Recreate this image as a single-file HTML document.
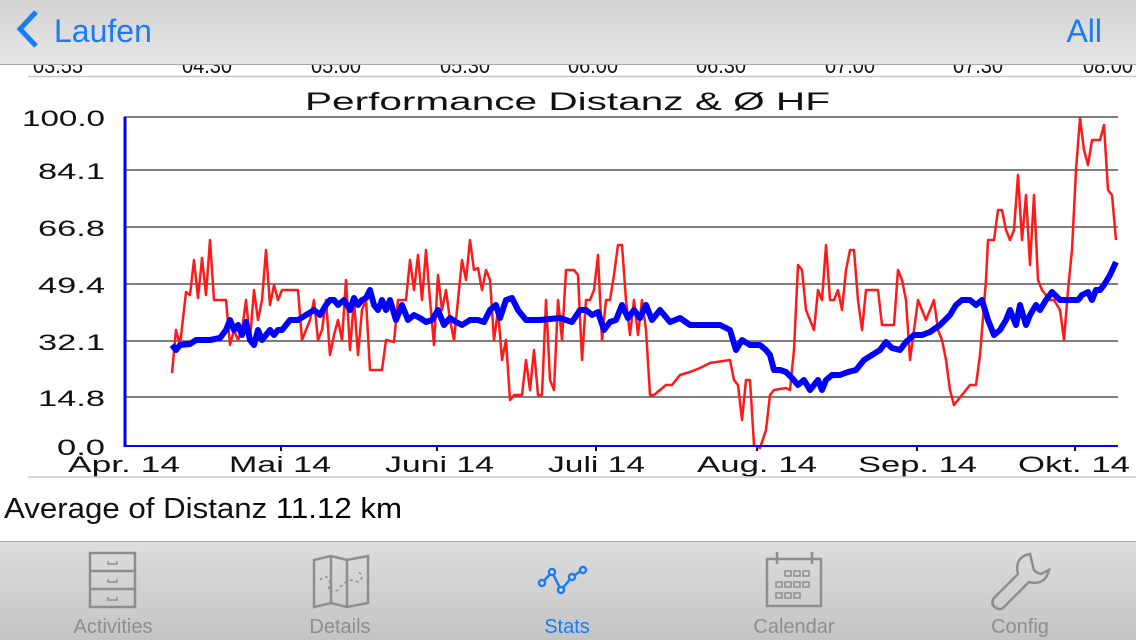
<!DOCTYPE html>
<html><head><meta charset="utf-8"><style>
html,body{margin:0;padding:0;width:1136px;height:640px;overflow:hidden;background:#fff;font-family:"Liberation Sans",sans-serif}
</style></head><body>
<svg width="1136" height="640" xmlns="http://www.w3.org/2000/svg" font-family="Liberation Sans, sans-serif">
<defs>
<linearGradient id="nav" x1="0" y1="0" x2="0" y2="1"><stop offset="0" stop-color="#d3d3d3"/><stop offset="1" stop-color="#e6e6e6"/></linearGradient>
<linearGradient id="tab" x1="0" y1="0" x2="0" y2="1"><stop offset="0" stop-color="#dedede"/><stop offset="1" stop-color="#c4c4c4"/></linearGradient>
</defs>
<rect width="1136" height="640" fill="#fff"/>
<g font-size="22" fill="#111" text-anchor="middle" lengthAdjust="spacingAndGlyphs">
<text x="58" y="73" textLength="50" lengthAdjust="spacingAndGlyphs">03:55</text><text x="207" y="73" textLength="50" lengthAdjust="spacingAndGlyphs">04:30</text><text x="336" y="73" textLength="50" lengthAdjust="spacingAndGlyphs">05:00</text><text x="465" y="73" textLength="50" lengthAdjust="spacingAndGlyphs">05:30</text><text x="593" y="73" textLength="50" lengthAdjust="spacingAndGlyphs">06:00</text><text x="721" y="73" textLength="50" lengthAdjust="spacingAndGlyphs">06:30</text><text x="850" y="73" textLength="50" lengthAdjust="spacingAndGlyphs">07:00</text><text x="978" y="73" textLength="50" lengthAdjust="spacingAndGlyphs">07:30</text><text x="1108" y="73" textLength="50" lengthAdjust="spacingAndGlyphs">08:00</text>
</g>
<line x1="28" y1="76.5" x2="1136" y2="76.5" stroke="#c8c8c8" stroke-width="1.5"/>
<rect x="0" y="0" width="1136" height="64" fill="url(#nav)"/>
<line x1="0" y1="64.5" x2="1136" y2="64.5" stroke="#a8a8a8"/>
<polyline points="36,12 20,29 36,46" fill="none" stroke="#1a7cf5" stroke-width="5"/>
<text x="54" y="42" font-size="32" fill="#1a7cf5">Laufen</text>
<text x="1102" y="42" font-size="32" fill="#1a7cf5" text-anchor="end">All</text>
<text x="305" y="110" font-size="25" fill="#111" textLength="525" lengthAdjust="spacingAndGlyphs">Performance Distanz &amp; Ø HF</text>
<g stroke="#333" stroke-width="1.2">
<line x1="124" y1="117" x2="1118" y2="117"/><line x1="124" y1="170" x2="1118" y2="170"/><line x1="124" y1="227" x2="1118" y2="227"/><line x1="124" y1="284" x2="1118" y2="284"/><line x1="124" y1="341" x2="1118" y2="341"/><line x1="124" y1="397" x2="1118" y2="397"/>
</g>
<g font-size="22" fill="#111">
<text x="22" y="126" textLength="83" lengthAdjust="spacingAndGlyphs">100.0</text><text x="38" y="179" textLength="67" lengthAdjust="spacingAndGlyphs">84.1</text><text x="38" y="236" textLength="67" lengthAdjust="spacingAndGlyphs">66.8</text><text x="38" y="293" textLength="67" lengthAdjust="spacingAndGlyphs">49.4</text><text x="38" y="350" textLength="67" lengthAdjust="spacingAndGlyphs">32.1</text><text x="38" y="406" textLength="67" lengthAdjust="spacingAndGlyphs">14.8</text><text x="57" y="455" textLength="48" lengthAdjust="spacingAndGlyphs">0.0</text>
</g>
<g font-size="22" fill="#111">
<text x="68" y="472" textLength="112" lengthAdjust="spacingAndGlyphs">Apr. 14</text><text x="229" y="472" textLength="102" lengthAdjust="spacingAndGlyphs">Mai 14</text><text x="385" y="472" textLength="109" lengthAdjust="spacingAndGlyphs">Juni 14</text><text x="548" y="472" textLength="97" lengthAdjust="spacingAndGlyphs">Juli 14</text><text x="697" y="472" textLength="120" lengthAdjust="spacingAndGlyphs">Aug. 14</text><text x="858" y="472" textLength="119" lengthAdjust="spacingAndGlyphs">Sep. 14</text><text x="1018" y="472" textLength="112" lengthAdjust="spacingAndGlyphs">Okt. 14</text>
</g>
<g stroke="#111" stroke-width="2"><line x1="281" y1="446" x2="281" y2="451"/><line x1="437" y1="446" x2="437" y2="451"/><line x1="596" y1="446" x2="596" y2="451"/><line x1="757" y1="446" x2="757" y2="451"/><line x1="917" y1="446" x2="917" y2="451"/><line x1="1075" y1="446" x2="1075" y2="451"/></g>
<polyline fill="none" stroke="#ff1a1a" stroke-width="2.5" stroke-linejoin="round" points="172,373 176,330 180,345 186,292 190,295 194,260 198,298 202,258 206,295 210,240 214,300 218,300 226,300 230,345 234,330 238,340 242,330 246,300 250,340 254,290 258,320 262,300 266,250 270,305 274,285 278,300 282,290 298,290 302,340 306,330 310,320 314,300 318,340 322,330 326,300 330,355 334,335 338,320 342,340 346,280 350,350 354,300 358,355 362,310 366,300 370,370 382,370 386,340 394,342 398,300 406,300 410,260 414,290 418,255 422,300 426,250 430,300 434,345 438,275 442,310 446,290 450,320 454,340 458,300 462,260 466,280 470,240 474,270 478,268 482,290 486,270 490,280 494,340 498,310 502,360 506,340 510,400 514,395 522,395 526,360 530,390 534,350 538,395 542,395 546,300 550,380 554,390 558,300 562,340 566,270 574,270 578,275 582,360 586,300 590,300 594,290 598,255 602,340 606,300 610,300 614,275 618,245 622,245 626,300 630,335 634,300 638,335 642,300 646,330 650,395 654,395 660,390 666,385 672,385 680,375 690,372 700,368 710,363 730,360 734,380 738,385 742,420 746,380 750,380 754,445 760,448 766,430 770,395 774,390 786,388 790,390 794,350 798,265 802,270 806,310 810,320 814,330 818,290 822,300 826,245 830,300 834,300 838,290 842,310 846,270 850,250 854,250 858,300 862,330 866,290 878,290 882,325 894,325 898,270 902,280 906,300 910,360 914,330 918,300 922,310 926,320 930,310 934,300 938,330 942,340 946,360 950,390 954,405 958,400 962,395 970,385 976,385 980,355 986,280 988,240 994,240 998,210 1002,210 1006,230 1010,240 1014,230 1018,175 1022,240 1026,195 1030,265 1034,195 1038,280 1042,290 1050,300 1054,300 1060,310 1064,340 1068,290 1072,250 1076,170 1080,118 1084,150 1088,165 1092,140 1100,140 1104,125 1108,190 1112,195 1116,240"/>
<polyline fill="none" stroke="#0000ff" stroke-width="6" stroke-linejoin="round" points="172,345 176,350 180,345 190,344 196,340 210,340 220,338 226,330 230,320 234,330 238,325 242,335 246,322 250,340 254,345 258,330 262,340 266,335 270,330 274,335 278,330 282,330 290,320 298,320 306,315 314,310 320,315 326,305 330,300 334,300 338,305 344,300 350,310 354,298 358,305 362,300 366,298 370,290 374,305 378,310 382,300 386,310 390,300 396,320 402,305 408,320 414,315 420,318 426,322 432,320 438,310 444,325 450,318 456,322 462,325 470,320 478,320 484,322 490,310 496,305 500,318 506,300 512,298 518,310 526,320 540,320 560,318 572,322 580,310 586,310 592,315 598,312 604,330 610,322 616,320 622,305 628,318 634,310 640,318 646,305 652,320 660,310 670,322 680,318 690,325 720,325 730,330 736,350 742,340 750,345 760,345 766,350 770,355 774,370 780,370 786,372 792,378 798,385 804,380 810,390 814,385 818,380 822,390 826,380 832,375 840,375 848,372 856,370 864,360 872,355 880,350 886,342 892,348 900,350 906,342 914,335 922,335 930,332 940,325 950,315 956,305 962,300 970,300 976,305 982,300 988,320 994,335 1000,330 1006,320 1010,310 1016,325 1020,305 1026,325 1030,315 1036,305 1040,310 1046,300 1052,292 1060,300 1078,300 1082,295 1088,292 1092,300 1096,290 1100,290 1104,285 1110,275 1116,262"/>
<line x1="125" y1="117" x2="125" y2="447" stroke="#0000ff" stroke-width="3"/>
<line x1="124" y1="446" x2="1118" y2="446" stroke="#0000ff" stroke-width="2"/>
<line x1="28" y1="477" x2="1136" y2="477" stroke="#c8c8c8" stroke-width="1.5"/>
<text x="4" y="518" font-size="29" fill="#111" textLength="398" lengthAdjust="spacingAndGlyphs">Average of Distanz <tspan fill="#000">11.12 km</tspan></text>
<rect x="0" y="541" width="1136" height="99" fill="url(#tab)"/>
<line x1="0" y1="541.5" x2="1136" y2="541.5" stroke="#a8a8a8"/>
<g font-size="20" text-anchor="middle" fill="#8e8e8e">
<text x="113" y="633">Activities</text><text x="340" y="633">Details</text><text x="567" y="633" fill="#1a7cf5">Stats</text><text x="794" y="633">Calendar</text><text x="1020" y="633">Config</text>
</g>
<g fill="none" stroke="#8e8e8e" stroke-width="2.5">
<rect x="90" y="553" width="45" height="54"/><line x1="90" y1="571" x2="135" y2="571"/><line x1="90" y1="589" x2="135" y2="589"/>
<path d="M108,561v3h9v-3M108,579v3h9v-3M108,597v3h9v-3" stroke-width="1.5"/>
<path d="M314,560l17,-4l16,4l21,-4v47l-21,4l-16,-4l-17,4z"/><line x1="331" y1="556" x2="331" y2="603"/><line x1="347" y1="560" x2="347" y2="607"/>
<path d="M320,580q8,-8 10,4q-5,12 8,6q10,-14 20,-8q8,-6 0,-10" stroke-dasharray="3,3" stroke-width="1.5"/>
<rect x="767" y="559" width="54" height="47"/><line x1="777" y1="552" x2="777" y2="564"/><line x1="812" y1="552" x2="812" y2="564"/>
<path d="M785,571h6v5h-6zM794,571h6v5h-6zM803,571h6v5h-6zM776,582h6v5h-6zM785,582h6v5h-6zM794,582h6v5h-6zM803,582h6v5h-6zM776,593h6v5h-6zM785,593h6v5h-6zM794,593h6v5h-6z" stroke-width="1.5"/>
<path d="M1030,554q-16,3 -12,20l-24,24q-4,6 2,10q5,3 9,-2l24,-24q16,4 20,-12l-8,4q-8,-2 -8,-8z"/>
</g>
<g fill="none" stroke="#1a7cf5" stroke-width="2.5"><polyline points="542,583 552,572 561,590 572,577 581,571"/>
<circle cx="542" cy="583" r="3" fill="#e0e0e0"/><circle cx="552" cy="572" r="3" fill="#e0e0e0"/><circle cx="561" cy="590" r="3" fill="#e0e0e0"/><circle cx="572" cy="577" r="3" fill="#e0e0e0"/><circle cx="583" cy="570" r="3" fill="#e0e0e0"/></g>
</svg>
</body></html>
